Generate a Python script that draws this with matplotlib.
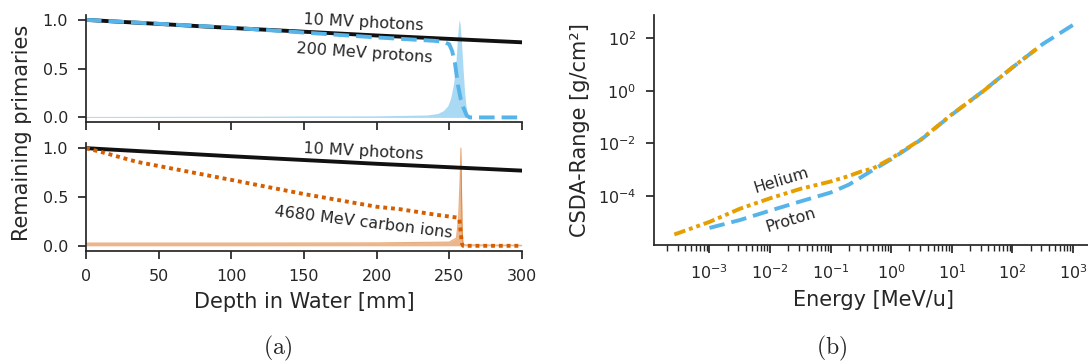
import numpy as np
import matplotlib
matplotlib.use("Agg")
import matplotlib.pyplot as plt
from matplotlib.ticker import LogLocator, NullLocator, NullFormatter

# ---- data ----
# (a) top: 10 MV photons and 200 MeV protons
depth_photon = [0, 100, 200, 300]
fluence_photon = [1.0, 0.917, 0.84, 0.77]

depth_proton = [0, 50, 100, 150, 200, 240, 246, 250, 252, 254, 256, 258, 260, 262, 264, 300]
fluence_proton = [1.0, 0.96, 0.92, 0.87, 0.82, 0.785, 0.775, 0.75, 0.68, 0.55, 0.33,
                  0.18, 0.09, 0.02, 0.0, 0.0]

depth_proton_dose = [0, 100, 200, 235, 242, 246, 249, 251, 253, 254.5, 255.5, 256.5, 257,
                     257.5, 258.5, 259.5, 260.5, 261.5, 262.5, 264, 300]
dose_proton = [0.01, 0.012, 0.016, 0.025, 0.04, 0.07, 0.12, 0.2, 0.35, 0.55, 0.78, 0.97, 1.0,
               0.95, 0.75, 0.5, 0.27, 0.12, 0.04, 0.0, 0.0]

# (a) bottom: 4680 MeV carbon ions
depth_carbon = [0, 12, 35, 100, 150, 200, 216, 240, 255, 257, 258, 258.8, 259.5, 300]
fluence_carbon = [1.0, 0.955, 0.86, 0.675, 0.53, 0.40, 0.375, 0.32, 0.29, 0.27, 0.12, 0.02, 0.0, 0.0]

depth_carbon_dose = [0, 100, 200, 250, 255, 256.5, 257.5, 258, 258.5, 259, 259.5, 260, 300]
dose_carbon = [0.028, 0.028, 0.03, 0.038, 0.08, 0.3, 0.7, 1.0, 0.5, 0.1, 0.02, 0.01, 0.005]

# (b) CSDA range in water, log10 values
log_energy_proton = [-3.0, -2.5, -2.0, -1.5, -1.0, -0.7, -0.5, -0.3, 0.0, 0.5, 1.0, 1.5, 2.0, 2.5, 3.0]
log_range_proton = [-5.23, -4.93, -4.57, -4.22, -3.88, -3.58, -3.30, -3.02, -2.61, -1.85, -0.91,
                    -0.04, 0.887, 1.78, 2.51]

log_energy_helium = [-3.58, -3.0, -2.5, -2.0, -1.5, -1.0, -0.7, -0.5, -0.3, 0.0, 0.5, 1.0, 1.5, 2.0, 2.4]
log_range_helium = [-5.48, -5.0, -4.50, -4.10, -3.74, -3.46, -3.25, -3.08, -2.96, -2.58, -1.84,
                    -0.90, -0.05, 0.89, 1.60]

c_black = "#111111"
c_blue = "#56B4E9"
c_verm = "#D55E00"
c_orange = "#E69F00"
c_text = "#262626"

plt.rcParams.update({
    "font.family": "DejaVu Sans",
    "text.color": c_text,
    "axes.labelcolor": c_text,
    "xtick.color": c_text,
    "ytick.color": c_text,
    "axes.edgecolor": c_text,
    "axes.linewidth": 1.25,
    "xtick.major.width": 1.25,
    "ytick.major.width": 1.25,
    "xtick.minor.width": 1.0,
    "xtick.major.size": 6,
    "ytick.major.size": 6,
    "xtick.minor.size": 4,
    "xtick.major.pad": 7,
    "ytick.major.pad": 7,
    "xtick.labelsize": 11.5,
    "ytick.labelsize": 11.5,
    "axes.labelsize": 15,
})

fig = plt.figure(figsize=(10.88, 3.63), dpi=100)
ax1 = fig.add_axes([0.0790, 0.6631, 0.4007, 0.2956])
ax2 = fig.add_axes([0.0790, 0.3094, 0.4007, 0.2959])
ax3 = fig.add_axes([0.6014, 0.3251, 0.4032, 0.6344])

for ax in (ax1, ax2, ax3):
    ax.spines["top"].set_visible(False)
    ax.spines["right"].set_visible(False)

# top panel
ax1.fill_between(depth_proton_dose, dose_proton, color=c_blue, alpha=0.5, lw=0)
ax1.plot(depth_photon, fluence_photon, color=c_black, lw=2.8)
ax1.plot(depth_proton, fluence_proton, color=c_blue, lw=2.8, ls=(0, (4, 1.8)))
ax1.text(191, 0.975, "10 MV photons", fontsize=11.5, rotation=-3, ha="center", va="center")
ax1.text(192, 0.655, "200 MeV protons", fontsize=11.5, rotation=-4, ha="center", va="center")
ax1.set_xlim(0, 300)
ax1.set_ylim(-0.05, 1.05)
ax1.set_yticks([0.0, 0.5, 1.0])
ax1.set_xticks([0, 50, 100, 150, 200, 250, 300])
ax1.set_xticklabels([])

# bottom panel
ax2.fill_between(depth_carbon_dose, dose_carbon, color=c_verm, alpha=0.45, lw=0)
ax2.plot(depth_carbon_dose, dose_carbon, color=c_verm, alpha=0.5, lw=0.8)
ax2.plot(depth_photon, fluence_photon, color=c_black, lw=2.8)
ax2.plot(depth_carbon, fluence_carbon, color=c_verm, lw=2.8, ls=(0, (1, 1)))
ax2.text(191, 0.963, "10 MV photons", fontsize=11.5, rotation=-3, ha="center", va="center")
ax2.text(191, 0.235, "4680 MeV carbon ions", fontsize=11.5, rotation=-7, ha="center", va="center")
ax2.set_xlim(0, 300)
ax2.set_ylim(-0.05, 1.05)
ax2.set_yticks([0.0, 0.5, 1.0])
ax2.set_xticks([0, 50, 100, 150, 200, 250, 300])
ax2.set_xlabel("Depth in Water [mm]", labelpad=6)

fig.text(22.5 / 1088, 1 - 133 / 363, "Remaining primaries", rotation=90,
         ha="center", va="center", fontsize=15)

# right panel
e_p = 10 ** np.array(log_energy_proton)
r_p = 10 ** np.array(log_range_proton)
e_he = 10 ** np.array(log_energy_helium)
r_he = 10 ** np.array(log_range_helium)
ax3.plot(e_p, r_p, color=c_blue, lw=2.8, ls=(0, (4, 1.8)))
ax3.plot(e_he, r_he, color=c_orange, lw=2.8, ls=(0, (3, 1, 1, 1, 1, 1)))
ax3.set_xscale("log")
ax3.set_yscale("log")
ax3.set_xlim(10 ** -3.91, 10 ** 3.33)
ax3.set_ylim(10 ** -5.88, 10 ** 2.9)
ax3.set_xticks([1e-3, 1e-2, 1e-1, 1e0, 1e1, 1e2, 1e3])
ax3.xaxis.set_minor_locator(LogLocator(base=10, subs=np.arange(2, 10), numticks=20))
ax3.xaxis.set_minor_formatter(NullFormatter())
ax3.set_yticks([1e-4, 1e-2, 1e0, 1e2])
ax3.yaxis.set_minor_locator(NullLocator())
ax3.text(10 ** -1.81, 10 ** -3.41, "Helium", fontsize=11.5, rotation=17, ha="center", va="center")
ax3.text(10 ** -1.65, 10 ** -4.95, "Proton", fontsize=11.5, rotation=17, ha="center", va="center")
ax3.set_xlabel("Energy [MeV/u]", labelpad=6)
ax3.set_ylabel("CSDA-Range [g/cm²]", labelpad=6)

fig.text(278 / 1088, 1 - 348 / 363, r"$(\mathrm{a})$", ha="center", va="center",
         fontsize=17, math_fontfamily="cm")
fig.text(832 / 1088, 1 - 348 / 363, r"$(\mathrm{b})$", ha="center", va="center",
         fontsize=17, math_fontfamily="cm")

fig.savefig("out.png", dpi=100)
